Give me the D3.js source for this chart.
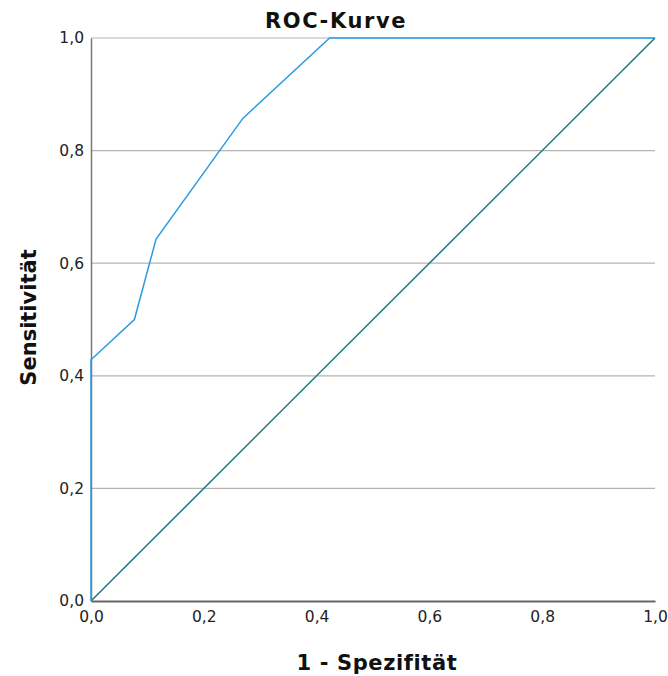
<!DOCTYPE html>
<html>
<head>
<meta charset="utf-8">
<script src="https://cdn.jsdelivr.net/npm/d3@7"></script>
<style>
  body { margin: 0; background: #fff; }
  .tick text { font-family: "DejaVu Sans", sans-serif; font-size: 15.5px; fill: #222; }
  .title { font-family: "DejaVu Sans", sans-serif; font-weight: bold; font-size: 21px; fill: #111; }
</style>
</head>
<body>
<svg id="chart" width="668" height="676"></svg>
<script>
// ROC data (1 - Spezifität, Sensitivität)
const fpr = [0, 0, 1 / 13, 1.5 / 13, 3.5 / 13, 5.5 / 13, 1];
const tpr = [0, 6 / 14, 7 / 14, 9 / 14, 12 / 14, 1, 1];
const refLine = [0, 1];
const tickValues = [0, 0.2, 0.4, 0.6, 0.8, 1.0];

const margin = { top: 38, right: 13, bottom: 75, left: 91 };
const width = 668 - margin.left - margin.right;
const height = 676 - margin.top - margin.bottom;

const svg = d3.select('#chart');
const fmt = d => d3.format('.1f')(d).replace('.', ',');

const x = d3.scaleLinear().domain([0, 1]).range([0, width]);
const y = d3.scaleLinear().domain([0, 1]).range([height, 0]);

const g = svg.append('g')
  .attr('transform', `translate(${margin.left}, ${margin.top})`);

// gridlines
g.append('g').attr('class', 'grid--y')
  .selectAll('line')
  .data(tickValues.filter(d => d > 0))
  .join('line')
  .attr('x1', 0).attr('x2', width)
  .attr('y1', d => y(d)).attr('y2', d => y(d))
  .style('stroke', '#b4b4b4')
  .style('stroke-width', 1.2);

// axes
const xAxis = g.append('g').attr('class', 'axis--x')
  .attr('transform', `translate(0, ${height})`)
  .call(d3.axisBottom(x).tickValues(tickValues).tickFormat(fmt).tickSize(0).tickPadding(10));
xAxis.select('.domain').style('stroke', '#666').style('stroke-width', 2);

const yAxis = g.append('g').attr('class', 'axis--y')
  .call(d3.axisLeft(y).tickValues(tickValues).tickFormat(fmt).tickSize(0).tickPadding(7));
yAxis.select('.domain').style('stroke', '#777').style('stroke-width', 1.5);

// reference diagonal
g.append('path')
  .datum(refLine)
  .attr('d', d3.line().x(d => x(d)).y(d => y(d)))
  .style('fill', 'none')
  .style('stroke', '#1a7a7c')
  .style('stroke-width', 1.5);

// ROC curve
const pts = fpr.map((d, i) => ({ x: d, y: tpr[i] }));
g.append('path')
  .datum(pts)
  .attr('d', d3.line().x(d => x(d.x)).y(d => y(d.y)))
  .style('fill', 'none')
  .style('stroke', '#2a9be0')
  .style('stroke-width', 1.5);

// titles
svg.append('text').attr('class', 'title')
  .attr('x', 336).attr('y', 28)
  .attr('text-anchor', 'middle')
  .style('letter-spacing', '1.6px')
  .text('ROC-Kurve');

svg.append('text').attr('class', 'title')
  .attr('x', 377).attr('y', 670)
  .attr('text-anchor', 'middle')
  .style('letter-spacing', '0.6px')
  .text('1 - Spezifität');

svg.append('text').attr('class', 'title')
  .attr('transform', `translate(36, ${margin.top + height / 2 - 2}) rotate(-90)`)
  .attr('text-anchor', 'middle')
  .text('Sensitivität');
</script>
</body>
</html>
